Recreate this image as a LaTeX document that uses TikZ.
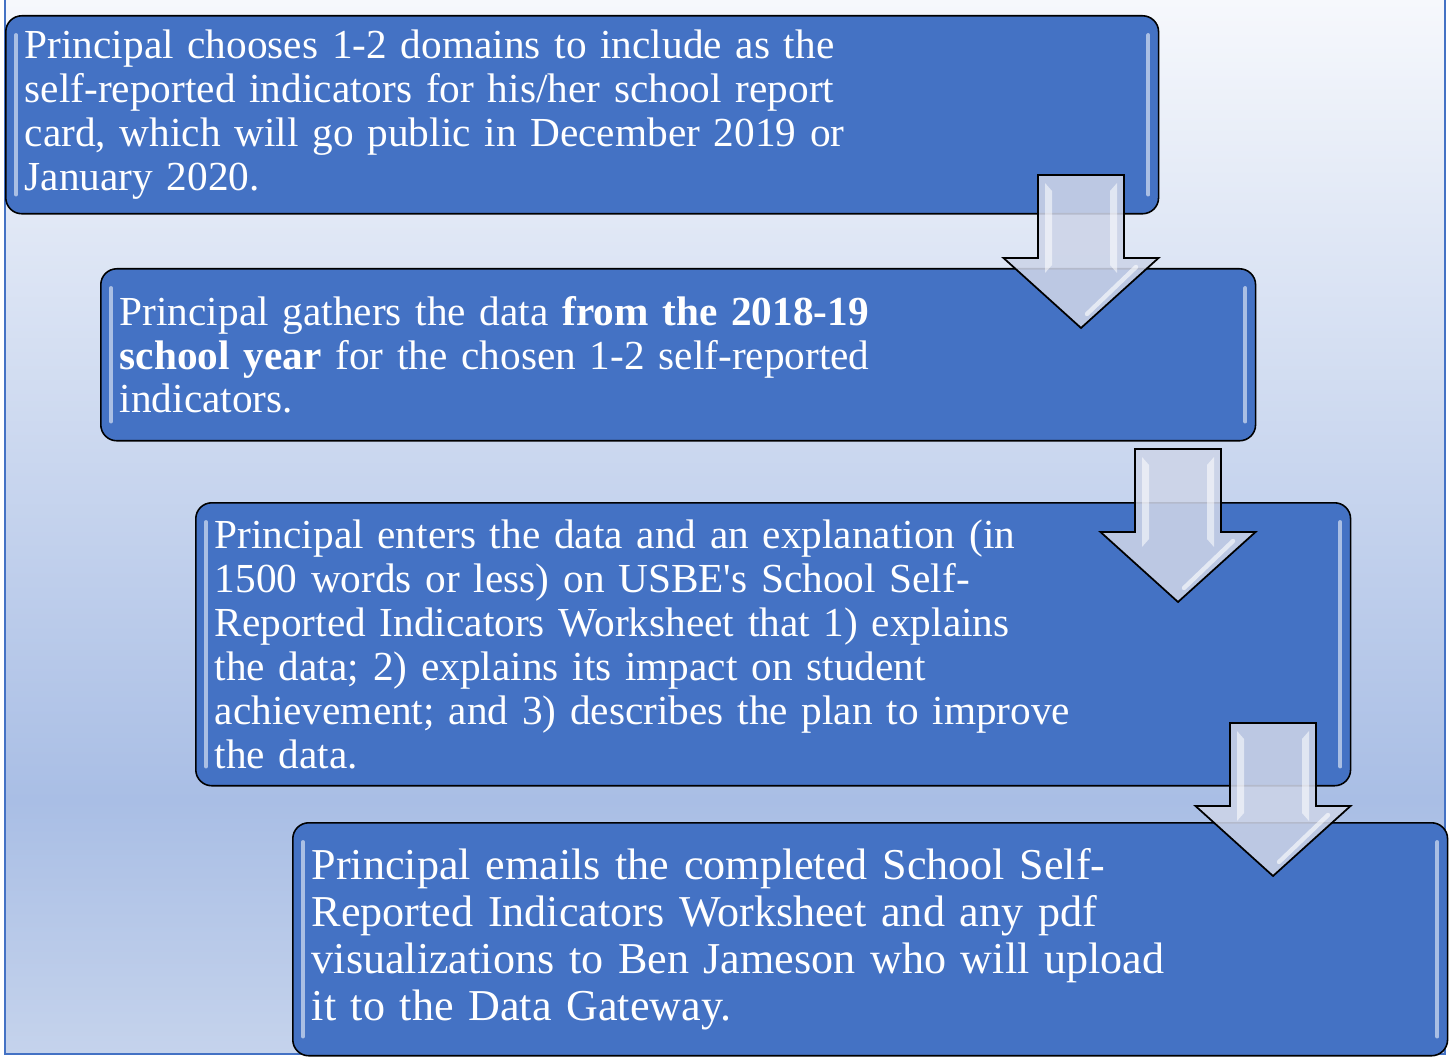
\documentclass[tikz,border=0pt]{standalone}
\usepackage{fontspec}
\setmainfont{Liberation Serif}
\definecolor{boxblue}{HTML}{4472C4}
\definecolor{bgtop}{HTML}{F6F8FC}
\definecolor{bgmid}{HTML}{A9BEE5}
\definecolor{bgbot}{HTML}{C5D3EC}
\definecolor{arrowfill}{HTML}{CDD4E8}
\tikzset{
  stepbox/.style={draw=black, line width=0.9pt, fill=boxblue, rounded corners=0.32cm,
    text=white, align=left, anchor=north west, inner xsep=0.38cm, inner ysep=0pt,
    font=\fontsize{23.5}{25}\selectfont},
  glint/.style={draw=white, line width=2.2pt, opacity=0.55, line cap=round},
  blockarrow/.style={draw=black, line width=1pt, fill=arrowfill, fill opacity=0.88, line join=miter}
}
\begin{document}
\begin{tikzpicture}[x=0.02cm, y=-0.02cm]
        \useasboundingbox (0,0) rectangle (1453,1057);
        \shade [top color=bgtop, bottom color=bgmid] (5,0) rectangle (1445,800);
        \shade [top color=bgmid, bottom color=bgbot] (5,800) rectangle (1445,1054);
        \draw [line width=1.2pt, color=boxblue] (5,-5) rectangle (1445,1054);
        % the four steps
        \node [stepbox, minimum width=23.06cm, minimum height=3.96cm, text width=22.3cm] (choose) at (5,15)
          {Principal chooses 1-2 domains to include as the\\
           self-reported indicators for his/her school report\\
           card, which will go public in December 2019 or\\
           January 2020.};
        \node [stepbox, minimum width=23.1cm, minimum height=3.44cm, text width=22.34cm] (gather) at (100,268)
          {Principal gathers the data \textbf{from the 2018-19}\\
           \textbf{school year} for the chosen 1-2 self-reported\\
           indicators.};
        \node [stepbox, minimum width=23.1cm, minimum height=5.66cm, text width=22.34cm] (enter) at (195,502)
          {Principal enters the data and an explanation (in\\
           1500 words or less) on USBE\textquotesingle s School Self-\\
           Reported Indicators Worksheet that 1) explains\\
           the data; 2) explains its impact on student\\
           achievement; and 3) describes the plan to improve\\
           the data.};
        \node [stepbox, minimum width=23.1cm, minimum height=4.66cm, text width=22.34cm,
          font=\fontsize{25.1}{26.7}\selectfont] (email) at (292,822)
          {Principal emails the completed School Self-\\
           Reported Indicators Worksheet and any pdf\\
           visualizations to Ben Jameson who will upload\\
           it to the Data Gateway.};
        \foreach \s in {choose,gather,enter,email} {
          \draw [glint] ([xshift=0.22cm,yshift=-0.4cm]\s.north west) -- ([xshift=0.22cm,yshift=0.4cm]\s.south west);
          \draw [glint] ([xshift=-0.22cm,yshift=-0.4cm]\s.north east) -- ([xshift=-0.22cm,yshift=0.4cm]\s.south east);
        }
        % arrows between the steps
        \foreach \cx/\ty in {1081/175, 1178/449, 1273/723} {
          \draw [blockarrow] (\cx-43,\ty) -- (\cx+43,\ty) -- (\cx+43,\ty+83) -- (\cx+77.5,\ty+83)
            -- (\cx,\ty+153) -- (\cx-77.5,\ty+83) -- (\cx-43,\ty+83) -- cycle;
          \fill [white, opacity=0.55] (\cx-36,\ty+8) -- (\cx-29,\ty+16) -- (\cx-29,\ty+90) -- (\cx-36,\ty+98) -- cycle;
          \fill [white, opacity=0.55] (\cx+36,\ty+8) -- (\cx+29,\ty+16) -- (\cx+29,\ty+90) -- (\cx+36,\ty+98) -- cycle;
          \draw [white, opacity=0.6, line width=2.5pt, line cap=round] (\cx+55,\ty+92) -- (\cx+6,\ty+139);
        }
    \end{tikzpicture}
\end{document}
